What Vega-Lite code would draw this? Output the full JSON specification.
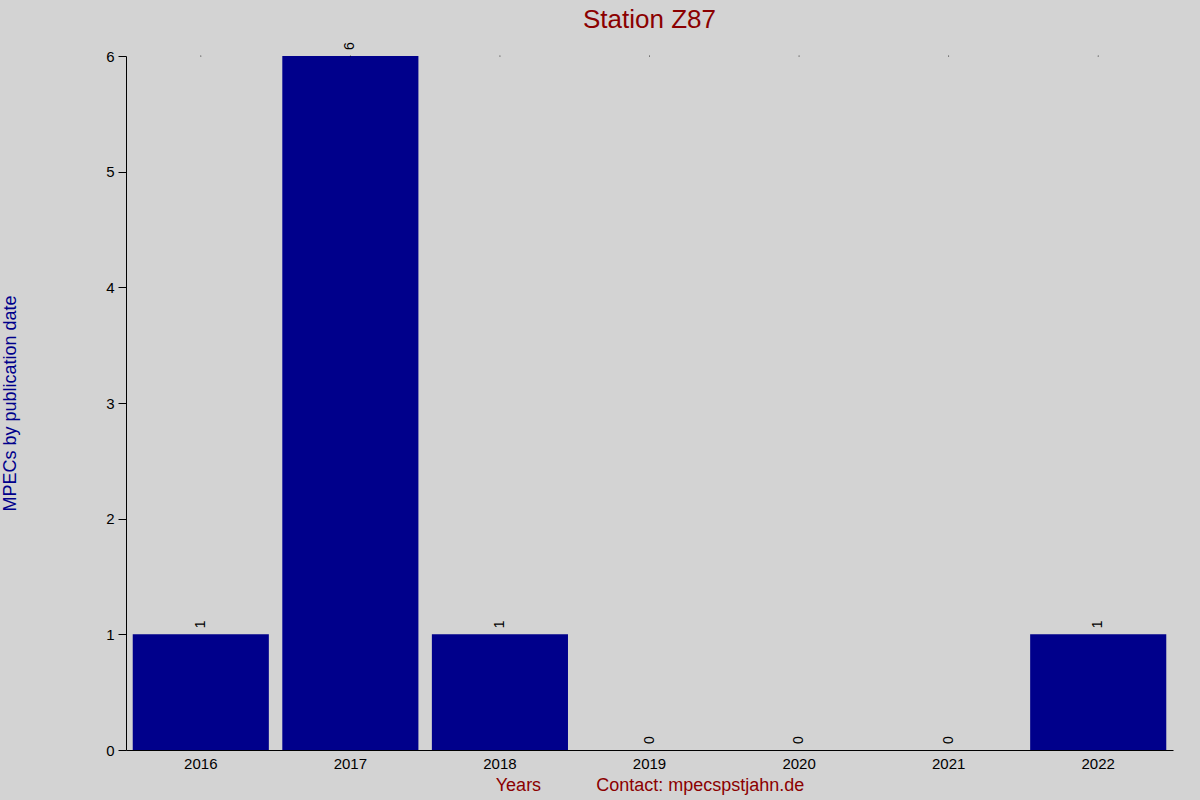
{
  "$schema": "https://vega.github.io/schema/vega-lite/v6.json",
  "autosize": "none",
  "padding": {"left": 126, "top": 56, "right": 27, "bottom": 50},
  "width": 1047,
  "height": 694,
  "background": "#d3d3d3",
  "config": {
    "view": {"stroke": null},
    "font": "Liberation Sans"
  },
  "title": {
    "text": "Station Z87",
    "fontSize": 26,
    "fontWeight": "normal",
    "color": "#8b0000",
    "anchor": "middle",
    "offset": 9
  },
  "data": {
    "values": [
      {"year": "2016", "count": 1},
      {"year": "2017", "count": 6},
      {"year": "2018", "count": 1},
      {"year": "2019", "count": 0},
      {"year": "2020", "count": 0},
      {"year": "2021", "count": 0},
      {"year": "2022", "count": 1}
    ]
  },
  "encoding": {
    "x": {
      "field": "year",
      "type": "ordinal",
      "scale": {"paddingInner": 0.09, "paddingOuter": 0.045},
      "axis": {
        "title": "Years\u00a0\u00a0\u00a0\u00a0\u00a0\u00a0\u00a0\u00a0\u00a0\u00a0\u00a0Contact: mpecspstjahn.de",
        "titleColor": "#8b0000",
        "titleFontSize": 18,
        "titleFontWeight": "normal",
        "titlePadding": 5,
        "labelAngle": 0,
        "labelFontSize": 15,
        "labelColor": "black",
        "labelPadding": 6,
        "ticks": false,
        "domainColor": "black",
        "grid": false
      }
    }
  },
  "layer": [
    {
      "mark": {"type": "bar", "color": "#00008b"},
      "encoding": {
        "y": {
          "field": "count",
          "type": "quantitative",
          "scale": {"domain": [0, 6], "nice": false},
          "axis": {
            "title": "MPECs by publication date",
            "titleColor": "#00008b",
            "titleFontSize": 18,
            "titleFontWeight": "normal",
            "titleX": -116,
            "titleY": 347,
            "titleAngle": 270,
            "titleAlign": "center",
            "titleBaseline": "middle",
            "values": [0, 1, 2, 3, 4, 5, 6],
            "format": "d",
            "labelFontSize": 15,
            "labelColor": "black",
            "labelPadding": 4,
            "tickSize": 8,
            "tickColor": "black",
            "domainColor": "black",
            "grid": false
          }
        }
      }
    },
    {
      "mark": {
        "type": "text",
        "angle": 270,
        "align": "left",
        "baseline": "middle",
        "dx": 6,
        "fontSize": 14,
        "color": "black"
      },
      "encoding": {
        "y": {"field": "count", "type": "quantitative"},
        "text": {"field": "count", "type": "quantitative"}
      }
    },
    {
      "mark": {"type": "point", "filled": true, "size": 1, "color": "black", "opacity": 1},
      "encoding": {
        "y": {"datum": 6}
      }
    }
  ]
}
